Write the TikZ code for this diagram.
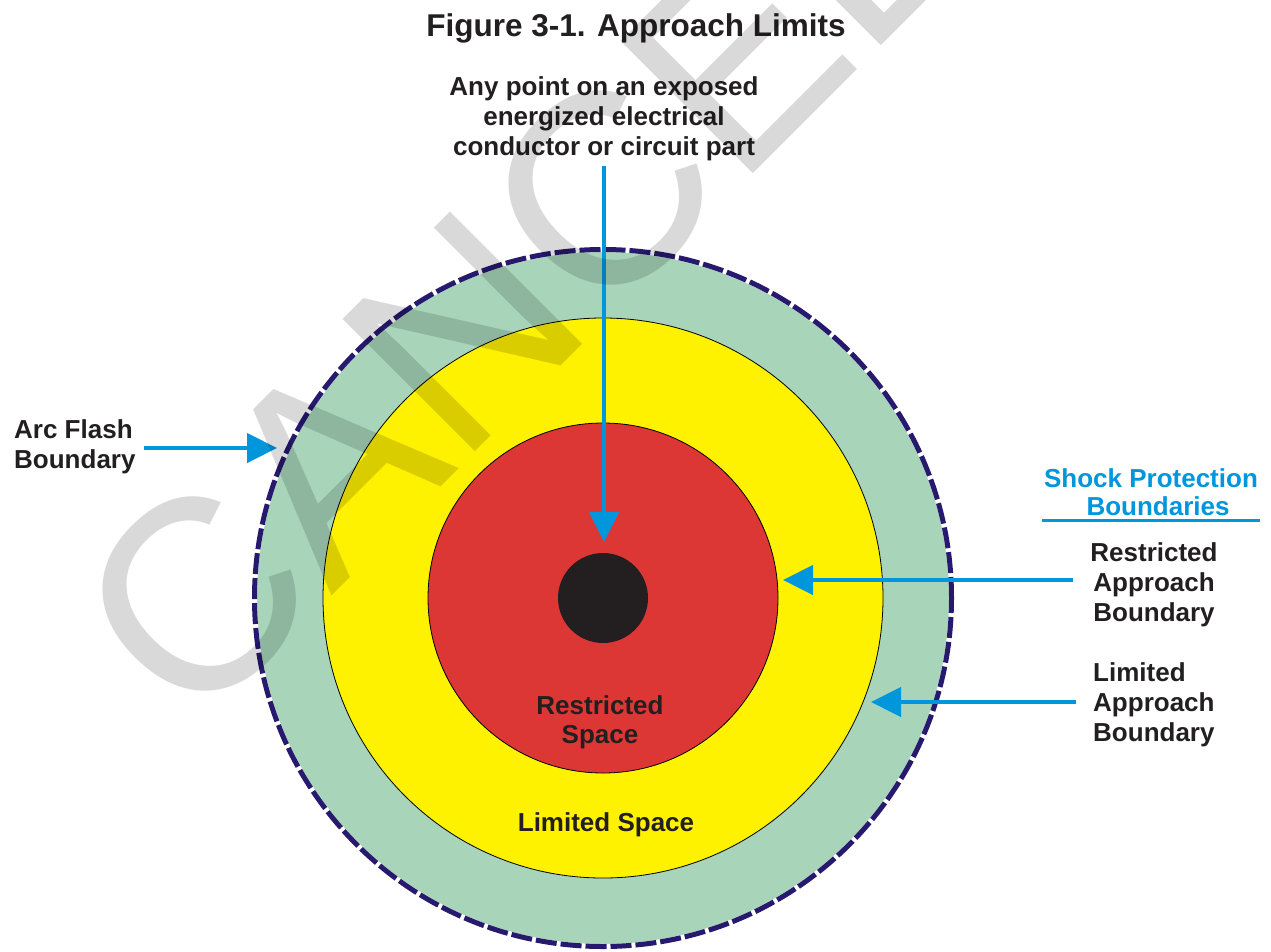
\documentclass[tikz,border=0pt]{standalone}
\usepackage{fontspec}
\setmainfont{Liberation Sans}
\usetikzlibrary{arrows.meta}
\definecolor{txt}{RGB}{35,31,32}
\definecolor{arrblue}{RGB}{0,150,219}
\definecolor{ringgreen}{RGB}{168,213,186}
\definecolor{ringyellow}{RGB}{255,242,0}
\definecolor{ringred}{RGB}{221,55,53}
\definecolor{dotblack}{RGB}{35,31,32}
\definecolor{navyline}{RGB}{38,25,110}
\begin{document}
\begin{tikzpicture}[x=1pt,y=1pt,
  lbl/.style={font=\fontsize{26}{30}\selectfont\bfseries, text=txt, inner sep=0pt},
  arr/.style={draw=arrblue, line width=4.5pt, -{Triangle[length=30pt,width=29pt]}},
  ring/.style={circle, inner sep=0pt, draw=black, line width=0.8pt}]
\useasboundingbox (0,0) rectangle (1271,-951);
\clip (0,0) rectangle (1271,-951);
\fill[white] (0,0) rectangle (1271,-951);
\coordinate (ctr) at (603,-598);
% rings
\node[circle, inner sep=0pt, minimum size=700pt, fill=ringgreen] (afb) at (ctr) {};
\draw[white, line width=5pt] (ctr) circle (348.5);
\draw[navyline, line width=5pt, dash pattern=on 21pt off 4pt] (ctr) circle (348.5);
\node[ring, minimum size=560pt, fill=ringyellow] (lab) at (ctr) {};
\node[ring, minimum size=350pt, fill=ringred] (rab) at (ctr) {};
\node[circle, inner sep=0pt, minimum size=90pt, fill=dotblack] (part) at (ctr) {};
% texts
\node[lbl, font=\fontsize{31.5}{36}\selectfont\bfseries, anchor=north] (title) at (636,-13) {Figure 3-1. Approach Limits};
\node[lbl, align=center, anchor=north] (anypt) at (604,-76) {Any point on an exposed\\energized electrical\\conductor or circuit part};
\node[lbl, align=left, anchor=north west] (afbl) at (14,-419) {Arc Flash\\Boundary};
\node[lbl, text=arrblue, align=center, anchor=north, font=\fontsize{26}{28}\selectfont\bfseries] (spb) at (1151,-468) {Shock Protection\\\hspace*{14pt}Boundaries};
\node[lbl, align=center, anchor=north] (rabl) at (1154,-542) {Restricted\\Approach\\Boundary};
\node[lbl, align=left, anchor=north west] (labl) at (1093,-662) {Limited\\Approach\\Boundary};
\node[lbl, align=center, anchor=north, font=\fontsize{26}{29}\selectfont\bfseries] (rsp) at (600,-695) {Restricted\\Space};
\node[lbl, anchor=north] (lsp) at (606,-812) {Limited Space};
% underline
\coordinate (ul0) at (1042,-520);
\coordinate (ul1) at (1260,-520);
\draw[arrblue, line width=3pt] (ul0) -- (ul1);
% arrows
\coordinate (t0) at (604,-166); \coordinate (t1) at (604,-542);
\coordinate (a0) at (144,-448); \coordinate (a1) at (277,-448);
\coordinate (r0) at (1073,-580); \coordinate (r1) at (783,-580);
\coordinate (l0) at (1076,-702); \coordinate (l1) at (871,-702);
\draw[arr] (t0) -- (t1);
\draw[arr] (a0) -- (a1);
\draw[arr] (r0) -- (r1);
\draw[arr] (l0) -- (l1);
% watermark
\node[rotate=45, anchor=base west, inner sep=0pt, font=\fontsize{272}{272}\selectfont, text=black, text opacity=0.15] (wm) at (192,-735) {CANCELED};
\end{tikzpicture}
\end{document}
